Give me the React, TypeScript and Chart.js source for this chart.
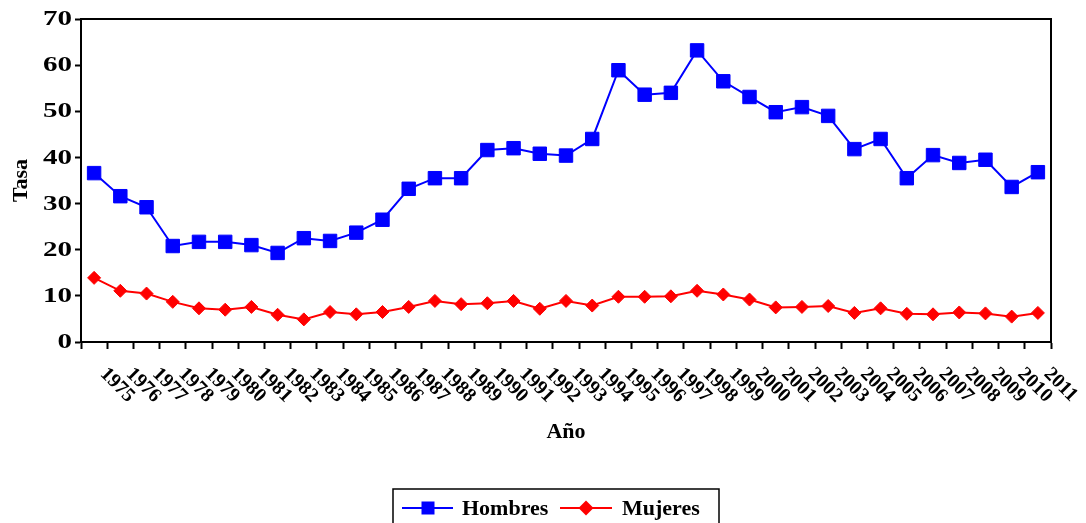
import React, { useEffect, useRef } from "react";
import { Chart, registerables } from "chart.js";

Chart.register(...registerables);

const years: string[] = [
  "1975", "1976", "1977", "1978", "1979", "1980", "1981", "1982", "1983", "1984",
  "1985", "1986", "1987", "1988", "1989", "1990", "1991", "1992", "1993", "1994",
  "1995", "1996", "1997", "1998", "1999", "2000", "2001", "2002", "2003", "2004",
  "2005", "2006", "2007", "2008", "2009", "2010", "2011",
];

const hombres: number[] = [
  36.6, 31.6, 29.2, 20.8, 21.7, 21.7, 21.0, 19.3, 22.5, 21.9,
  23.7, 26.5, 33.2, 35.5, 35.5, 41.6, 42.0, 40.8, 40.4, 44.0,
  58.9, 53.6, 54.0, 63.2, 56.5, 53.1, 49.8, 50.9, 49.0, 41.8,
  44.0, 35.5, 40.5, 38.8, 39.5, 33.6, 36.8,
];

const mujeres: number[] = [
  13.9, 11.1, 10.5, 8.7, 7.3, 7.0, 7.6, 5.9, 4.9, 6.5,
  6.0, 6.5, 7.6, 8.9, 8.2, 8.4, 8.9, 7.2, 8.9, 7.9,
  9.8, 9.8, 9.9, 11.1, 10.3, 9.2, 7.5, 7.6, 7.8, 6.3,
  7.3, 6.1, 6.0, 6.4, 6.2, 5.5, 6.3,
];

const seriesNames: string[] = ["Hombres", "Mujeres"];
const xTitle = "Año";
const yTitle = "Tasa";
const yMin = 0;
const yMax = 70;
const yStep = 10;

const FONT = "'Liberation Serif', 'Times New Roman', serif";
const BLUE = "#0000FF";
const RED = "#FF0000";

const customPlugin = {
  id: "customDecor",
  afterDraw(chart: any) {
    const { ctx, chartArea } = chart;
    const xs = chart.scales.x;
    const ys = chart.scales.y;
    ctx.save();
    // frame top & right
    ctx.strokeStyle = "#000";
    ctx.lineWidth = 2;
    ctx.beginPath();
    ctx.moveTo(chartArea.left - 1, chartArea.top);
    ctx.lineTo(chartArea.right, chartArea.top);
    ctx.lineTo(chartArea.right, chartArea.bottom + 1);
    ctx.stroke();

    // y tick labels (horizontally stretched like the original)
    ctx.fillStyle = "#000";
    ctx.font = `bold 20px ${FONT}`;
    ctx.textAlign = "right";
    ctx.textBaseline = "middle";
    ys.ticks.forEach((t: any) => {
      const y = ys.getPixelForValue(t.value);
      ctx.save();
      ctx.translate(chartArea.left - 9, y + 1);
      ctx.scale(1.45, 1);
      ctx.fillText(String(t.value), 0, 0);
      ctx.restore();
    });

    // x tick labels rotated clockwise
    ctx.font = `bold 20px ${FONT}`;
    ctx.textAlign = "left";
    ctx.textBaseline = "top";
    years.forEach((lab, i) => {
      const x = xs.getPixelForTick(i);
      ctx.save();
      ctx.translate(x + 16, chartArea.bottom + 22);
      ctx.rotate(Math.PI / 4);
      ctx.fillText(lab, 0, 0);
      ctx.restore();
    });

    // x title
    ctx.font = `bold 22px ${FONT}`;
    ctx.textAlign = "center";
    ctx.textBaseline = "middle";
    ctx.fillText(xTitle, (chartArea.left + chartArea.right) / 2, chartArea.bottom + 90);

    // legend
    const cx = chart.width / 2 + 13;
    const boxL = cx - 163;
    const boxT = chartArea.bottom + 147;
    ctx.lineWidth = 1.5;
    ctx.strokeStyle = "#000";
    ctx.strokeRect(boxL, boxT, 326, 40);
    const ly = boxT + 19;
    ctx.font = `bold 22px ${FONT}`;
    ctx.textAlign = "left";
    ctx.textBaseline = "middle";
    // Hombres
    ctx.strokeStyle = BLUE;
    ctx.fillStyle = BLUE;
    ctx.lineWidth = 2;
    ctx.beginPath();
    ctx.moveTo(boxL + 9, ly);
    ctx.lineTo(boxL + 60, ly);
    ctx.stroke();
    ctx.fillRect(boxL + 35 - 6.5, ly - 6.5, 13, 13);
    ctx.fillStyle = "#000";
    ctx.fillText(seriesNames[0], boxL + 69, ly + 1);
    // Mujeres
    ctx.strokeStyle = RED;
    ctx.fillStyle = RED;
    ctx.beginPath();
    ctx.moveTo(boxL + 167, ly);
    ctx.lineTo(boxL + 219, ly);
    ctx.stroke();
    const dx = boxL + 193;
    ctx.beginPath();
    ctx.moveTo(dx - 7.5, ly);
    ctx.lineTo(dx, ly - 7.5);
    ctx.lineTo(dx + 7.5, ly);
    ctx.lineTo(dx, ly + 7.5);
    ctx.closePath();
    ctx.fill();
    ctx.fillStyle = "#000";
    ctx.fillText(seriesNames[1], boxL + 229, ly + 1);
    ctx.restore();
  },
};

export default function App() {
  const canvasRef = useRef<HTMLCanvasElement | null>(null);

  useEffect(() => {
    document.body.style.margin = "0";
    const canvas = canvasRef.current;
    if (!canvas) return;
    const chart = new Chart(canvas, {
      type: "line",
      data: {
        labels: years,
        datasets: [
          {
            label: seriesNames[0],
            data: hombres,
            borderColor: BLUE,
            backgroundColor: BLUE,
            borderWidth: 2,
            pointStyle: "rect",
            pointRadius: 9.5,
            pointBorderWidth: 1,
            pointBackgroundColor: BLUE,
            pointBorderColor: BLUE,
            tension: 0,
          },
          {
            label: seriesNames[1],
            data: mujeres,
            borderColor: RED,
            backgroundColor: RED,
            borderWidth: 2,
            pointStyle: "rectRot",
            pointRadius: 6.5,
            pointBorderWidth: 1,
            pointBackgroundColor: RED,
            pointBorderColor: RED,
            tension: 0,
          },
        ],
      },
      options: {
        animation: false,
        responsive: true,
        maintainAspectRatio: false,
        layout: { padding: { top: 19, right: 35, left: 0, bottom: 0 } },
        plugins: {
          legend: { display: false },
          tooltip: { enabled: false },
        },
        scales: {
          x: {
            type: "category",
            offset: true,
            grid: {
              offset: true,
              drawOnChartArea: false,
              drawTicks: true,
              tickLength: 7,
              tickWidth: 2,
              tickColor: "#000",
            },
            border: { display: true, color: "#000", width: 2 },
            ticks: { display: false },
            afterFit: (s: any) => {
              s.height = 181;
            },
          },
          y: {
            min: yMin,
            max: yMax,
            ticks: {
              stepSize: yStep,
              color: "rgba(0,0,0,0)",
              padding: 3,
              font: { family: FONT, size: 19, weight: "bold" },
            },
            grid: {
              drawOnChartArea: false,
              drawTicks: true,
              tickLength: 6,
              tickWidth: 2,
              tickColor: "#000",
            },
            border: { display: true, color: "#000", width: 2 },
            title: {
              display: true,
              text: yTitle,
              color: "#000",
              font: { family: FONT, size: 22, weight: "bold" },
              padding: { top: 8, bottom: 0 },
            },
            afterFit: (s: any) => {
              s.width = 81;
            },
          },
        },
      },
      plugins: [customPlugin],
    });
    return () => chart.destroy();
  }, []);

  return (
    <div style={{ width: "1086px", height: "523px", position: "relative" }}>
      <canvas ref={canvasRef} />
    </div>
  );
}
